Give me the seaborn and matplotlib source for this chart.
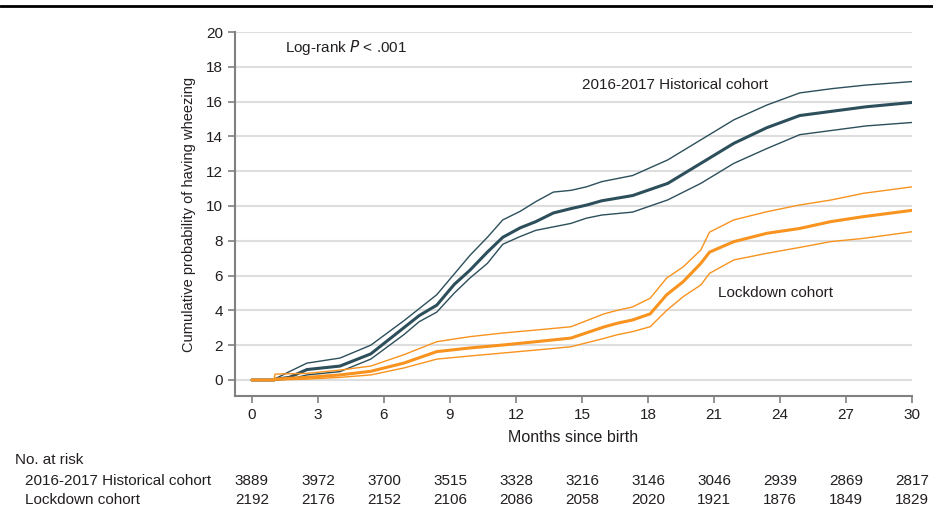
import numpy as np
import pandas as pd
import matplotlib
matplotlib.use("Agg")
import matplotlib.pyplot as plt
import matplotlib.transforms as mtransforms
import seaborn as sns

# ---- data (months, cumulative % wheezing) ----
hist_months = [0, 1.0, 1.1, 1.7, 2.5, 4.0, 5.4, 6.9, 7.6, 8.4, 9.2, 9.9, 10.7, 11.4,
               12.2, 12.9, 13.7, 14.5, 15.2, 15.9, 17.3, 18.9, 20.4, 21.9, 23.4,
               24.9, 26.4, 27.9, 30]
hist_mean = [0, 0, 0.05, 0.15, 0.6, 0.8, 1.5, 3.0, 3.7, 4.3, 5.5, 6.3, 7.35, 8.2,
             8.75, 9.1, 9.6, 9.85, 10.05, 10.3, 10.6, 11.3, 12.45, 13.6, 14.5,
             15.2, 15.45, 15.7, 15.95]
hist_upper = [0, 0, 0.1, 0.48, 0.97, 1.26, 2.0, 3.4, 4.1, 4.9, 6.1, 7.15, 8.2, 9.2,
              9.7, 10.25, 10.8, 10.9, 11.1, 11.4, 11.75, 12.65, 13.8, 14.95, 15.8,
              16.5, 16.75, 16.95, 17.15]
hist_lower = [0, 0, 0, 0.05, 0.29, 0.48, 1.2, 2.6, 3.35, 3.9, 5.0, 5.85, 6.7, 7.8,
              8.25, 8.6, 8.8, 9.0, 9.3, 9.48, 9.65, 10.35, 11.3, 12.45, 13.3,
              14.1, 14.35, 14.6, 14.8]

lock_months = [0, 1.0, 1.05, 2.5, 4.0, 5.4, 6.9, 8.4, 9.9, 11.4, 12.9, 14.5, 16.0,
               16.6, 17.3, 18.1, 18.85, 19.6, 20.4, 20.8, 21.9, 23.4, 24.9, 26.3,
               27.8, 30]
lock_mean = [0, 0, 0.05, 0.15, 0.29, 0.5, 0.97, 1.63, 1.84, 2.01, 2.2, 2.41, 3.05,
             3.26, 3.45, 3.8, 4.9, 5.65, 6.7, 7.35, 7.95, 8.43, 8.71, 9.1, 9.39, 9.75]
lock_upper = [0, 0, 0.34, 0.38, 0.57, 0.8, 1.45, 2.2, 2.49, 2.7, 2.87, 3.06, 3.8,
              4.0, 4.2, 4.7, 5.86, 6.5, 7.47, 8.5, 9.2, 9.67, 10.06, 10.34, 10.73, 11.1]
lock_lower = [0, 0, 0, 0.05, 0.15, 0.29, 0.69, 1.2, 1.38, 1.55, 1.72, 1.91, 2.39,
              2.6, 2.78, 3.06, 4.0, 4.79, 5.46, 6.13, 6.9, 7.28, 7.62, 7.95, 8.14, 8.52]

risk_months = [0, 3, 6, 9, 12, 15, 18, 21, 24, 27, 30]
risk_hist = [3889, 3972, 3700, 3515, 3328, 3216, 3146, 3046, 2939, 2869, 2817]
risk_lock = [2192, 2176, 2152, 2106, 2086, 2058, 2020, 1921, 1876, 1849, 1829]

TEAL = "#2c4f5b"
ORANGE = "#f7931e"
GRID = "#dedede"
SPINE = "#808080"
TXT = "#231f20"
FS = 11

sns.set_theme(style="white")
plt.rcParams["font.family"] = ["Liberation Sans", "DejaVu Sans"]

fig = plt.figure(figsize=(9.33, 5.08), dpi=100)
ax = fig.add_axes([235 / 933, 1 - 396 / 508, (912 - 235) / 933, (396 - 32) / 508])

# gridlines drawn from 0 to 30
for yv in range(0, 21, 2):
    ax.axhline(yv, color=GRID, lw=1.5, zorder=0)

series = [
    (hist_months, hist_upper, TEAL, 1.0),
    (hist_months, hist_lower, TEAL, 1.0),
    (hist_months, hist_mean, TEAL, 2.2),
    (lock_months, lock_upper, ORANGE, 1.0),
    (lock_months, lock_lower, ORANGE, 1.0),
    (lock_months, lock_mean, ORANGE, 2.2),
]
for xs, ys, col, lw in series:
    df = pd.DataFrame({"month": xs, "prob": ys})
    sns.lineplot(data=df, x="month", y="prob", ax=ax, color=col, linewidth=lw,
                 estimator=None, zorder=3)

ax.set_xlim(-0.77, 30)
ax.set_ylim(-0.92, 20)
ax.set_xticks(risk_months)
ax.set_yticks(range(0, 21, 2))
ax.tick_params(axis="both", direction="out", length=5, width=1.2, color=SPINE,
               labelsize=FS, labelcolor=TXT, bottom=True, left=True)
for side in ["top", "right"]:
    ax.spines[side].set_visible(False)
for side in ["left", "bottom"]:
    ax.spines[side].set_color(SPINE)
    ax.spines[side].set_linewidth(1.5)

ax.set_xlabel("Months since birth", fontsize=FS + 0.5, color=TXT, labelpad=6)
ax.set_ylabel("Cumulative probability of having wheezing", fontsize=10.5,
              color=TXT, labelpad=7)

ax.text(1.5, 19.1, "Log-rank $\\it{P}$ < .001", fontsize=FS, color=TXT,
        va="center", ha="left")
ax.text(15.0, 16.95, "2016-2017 Historical cohort", fontsize=FS, color=TXT,
        va="center", ha="left")
ax.text(21.2, 5.0, "Lockdown cohort", fontsize=FS, color=TXT,
        va="center", ha="left")

# number at risk table
trans = mtransforms.blended_transform_factory(ax.transData, fig.transFigure)
fig.text(15 / 933, 1 - 460 / 508, "No. at risk", fontsize=FS, color=TXT,
         va="center", ha="left")
fig.text(25 / 933, 1 - 481 / 508, "2016-2017 Historical cohort", fontsize=FS,
         color=TXT, va="center", ha="left")
fig.text(25 / 933, 1 - 500 / 508, "Lockdown cohort", fontsize=FS,
         color=TXT, va="center", ha="left")
for m, a, b in zip(risk_months, risk_hist, risk_lock):
    ax.text(m, 1 - 481 / 508, str(a), transform=trans, fontsize=FS, color=TXT,
            va="center", ha="center", clip_on=False)
    ax.text(m, 1 - 500 / 508, str(b), transform=trans, fontsize=FS, color=TXT,
            va="center", ha="center", clip_on=False)

# rule across the top
fig.add_artist(plt.Line2D([0, 1], [1 - 6 / 508, 1 - 6 / 508],
                          transform=fig.transFigure, color="black", lw=2))

fig.savefig("out.png", dpi=100)
